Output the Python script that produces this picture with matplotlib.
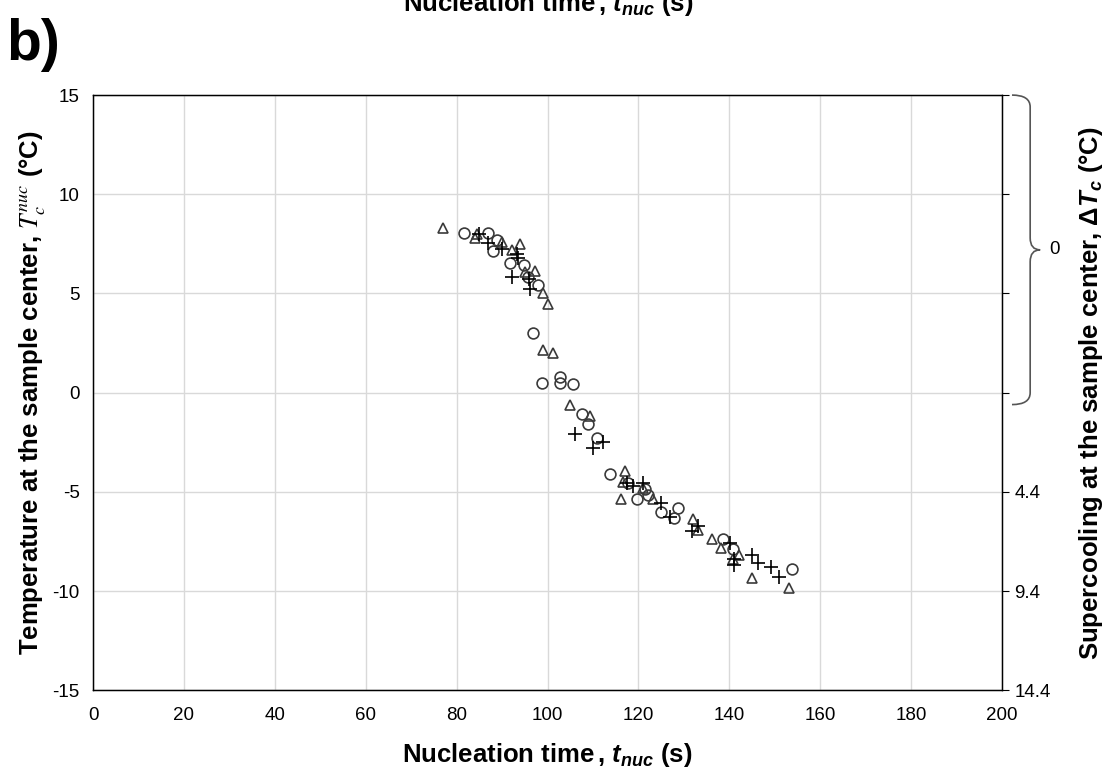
import numpy as np
import matplotlib
matplotlib.use("Agg")
import matplotlib.pyplot as plt
from matplotlib.path import Path
from matplotlib.patches import PathPatch
import matplotlib.transforms as mtransforms

plt.rcParams['font.family'] = ['Liberation Sans', 'DejaVu Sans']
plt.rcParams['axes.unicode_minus'] = False
plt.rcParams['mathtext.fontset'] = 'custom'
plt.rcParams['mathtext.rm'] = 'Liberation Sans:bold'
plt.rcParams['mathtext.it'] = 'Liberation Sans:italic:bold'
plt.rcParams['mathtext.bf'] = 'Liberation Sans:bold'

# data
circ_t = [81.6, 86.9, 88.9, 88.0, 91.7, 94.8, 95.7, 97.9, 96.8, 98.8, 102.7, 102.7,
          105.6, 107.6, 108.9, 110.9, 113.7, 117.7, 119.7, 122.1, 121.5, 125.0,
          128.7, 127.8, 138.6, 140.8, 153.8]
circ_T = [8.07, 8.07, 7.7, 7.16, 6.56, 6.45, 5.85, 5.45, 3.03, 0.5, 0.8, 0.5,
          0.45, -1.06, -1.56, -2.3, -4.08, -4.54, -5.35, -5.14, -4.84, -6.0,
          -5.8, -6.3, -7.36, -7.87, -8.9]

tri_t = [77.0, 84.5, 84.0, 90.0, 94.0, 92.2, 97.2, 95.0, 99.0, 100.1, 99.0, 101.2,
         105.0, 109.4, 117.1, 116.6, 116.2, 121.0, 123.2, 132.0, 133.1, 136.2,
         138.2, 140.8, 142.1, 145.0, 153.1]
tri_T = [8.3, 8.0, 7.8, 7.6, 7.5, 7.2, 6.15, 6.1, 5.0, 4.45, 2.17, 2.02,
         -0.6, -1.16, -3.93, -4.49, -5.35, -4.79, -5.35, -6.35, -6.9, -7.36,
         -7.82, -8.37, -8.2, -9.33, -9.83]

plus_t = [85.0, 86.9, 90.0, 93.3, 93.5, 92.2, 95.9, 96.1, 106.0, 110.0, 112.2,
          117.5, 118.8, 121.0, 125.0, 127.0, 133.1, 131.8, 140.2, 141.0, 141.0,
          145.0, 146.3, 149.2, 150.9]
plus_T = [8.0, 7.56, 7.26, 7.0, 6.8, 5.85, 5.75, 5.24, -2.1, -2.77, -2.5,
          -4.54, -4.69, -4.54, -5.55, -6.25, -6.7, -6.96, -7.6, -8.37, -8.67,
          -8.17, -8.57, -8.77, -9.28]

T_melt = -0.6  # supercooling zero point
y_ticks = [-15, -10, -5, 0, 5, 10, 15]
right_labels = ['14.4', '9.4', '4.4', '', '', '', '']

fs_tick = 13.5
fs_lab = 18.5

fig = plt.figure(figsize=(11.1, 7.73), dpi=100)
ax = fig.add_axes([0.0838, 0.107, 0.8189, 0.770])

ax.plot(circ_t, circ_T, 'o', ms=7.8, mfc='none', mec='#3a3a3a', mew=1.2)
ax.plot(tri_t, tri_T, '^', ms=7.8, mfc='none', mec='#3a3a3a', mew=1.2)
ax.plot(plus_t, plus_T, '+', ms=9.5, color='black', mew=1.2)

ax.set_xlim(0, 200)
ax.set_ylim(-15, 15)
ax.set_xticks(np.arange(0, 201, 20))
ax.set_yticks(y_ticks)
ax.grid(True, color='#d9d9d9', lw=1.0)
ax.set_axisbelow(True)
ax.tick_params(labelsize=fs_tick, length=0)
ax.tick_params(axis='x', pad=12)
ax.tick_params(axis='y', pad=9.5)
for s in ax.spines.values():
    s.set_color('black')
    s.set_linewidth(1.0)

ax.set_xlabel("Nucleation time$\\,$, $t_{nuc}$ (s)", fontsize=fs_lab, fontweight='bold')
ax.xaxis.set_label_coords(0.5, -0.085)
ax.set_ylabel("Temperature at the sample center, $T_c^{nuc}$ (°C)", fontsize=fs_lab,
              fontweight='bold', math_fontfamily='stix')
ax.yaxis.set_label_coords(-0.049, 0.5)

ax2 = ax.twinx()
ax2.set_ylim(-15, 15)
ax2.set_yticks(y_ticks)
ax2.set_yticklabels(right_labels)
ax2.tick_params(labelsize=fs_tick, length=5, direction='out', pad=4)
ax2.spines['right'].set_color('black')
ax2.set_ylabel("Supercooling at the sample center, $ΔT_c$ (°C)", fontsize=fs_lab,
               fontweight='bold')
ax2.yaxis.set_label_coords(1.083, 0.5)

# brace for the zero-supercooling range
trans = mtransforms.blended_transform_factory(ax.transAxes, ax.transData)
x0, x1, x2 = 1.011, 1.031, 1.042
top, bot = 15, T_melt
mid = (top + bot) / 2
verts = [(x0, top), (x1, top), (x1, top - 0.6),
         (x1, mid + 0.6), (x1, mid), (x2, mid),
         (x1, mid), (x1, mid - 0.6),
         (x1, bot + 0.6), (x1, bot), (x0, bot)]
codes = [Path.MOVETO, Path.CURVE3, Path.CURVE3,
         Path.LINETO, Path.CURVE3, Path.CURVE3,
         Path.CURVE3, Path.CURVE3,
         Path.LINETO, Path.CURVE3, Path.CURVE3]
brace = PathPatch(Path(verts, codes), transform=trans, fc='none', ec='#555555',
                  lw=1.2, clip_on=False)
ax.add_patch(brace)
ax.text(1.052, mid, '0', transform=trans, fontsize=fs_tick, va='center', ha='left')

fig.text(0.006, 0.942, 'b)', fontsize=41, fontweight='bold', va='center', ha='left')
fig.text(0.494, 0.986, "Nucleation time$\\,$, $t_{nuc}$ (s)", fontsize=fs_lab,
         fontweight='bold', ha='center', va='baseline')

fig.savefig('out.png', dpi=100)
